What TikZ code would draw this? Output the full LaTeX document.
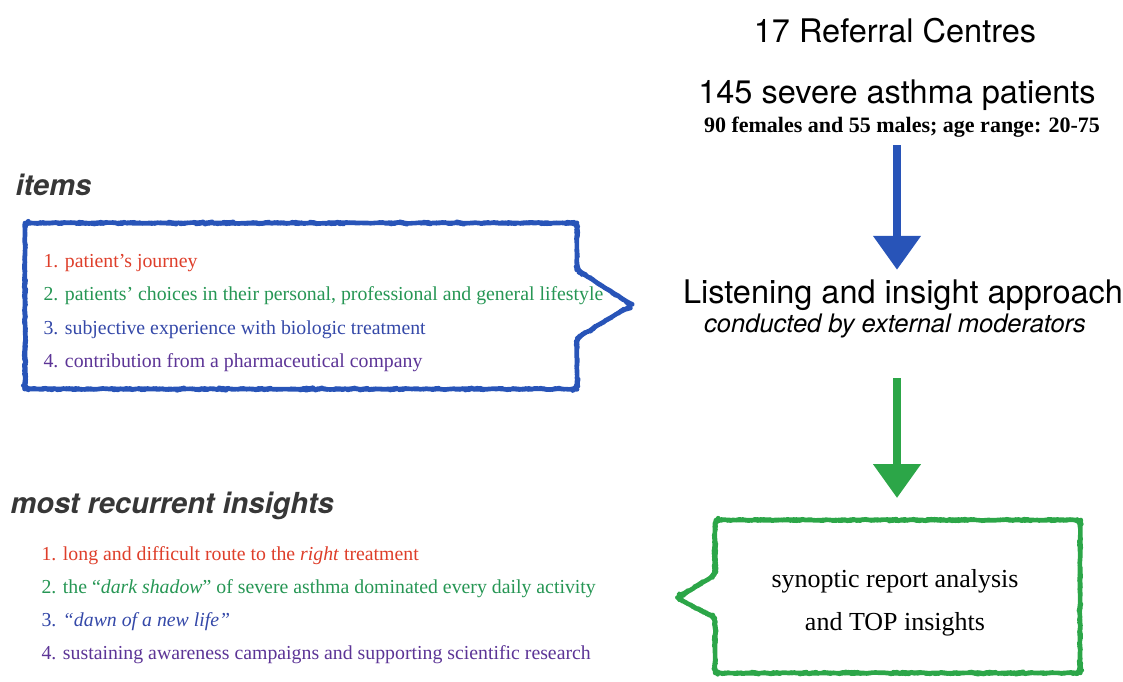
\documentclass[tikz,border=0pt]{standalone}
\usepackage{fontspec}
\setmainfont{Liberation Serif}
\setsansfont{TeX Gyre Heros}
\usetikzlibrary{arrows.meta,decorations.pathmorphing,positioning}

\definecolor{itemred}{RGB}{222,62,42}
\definecolor{itemgreen}{RGB}{38,150,84}
\definecolor{itemblue}{RGB}{52,72,168}
\definecolor{itempurple}{RGB}{92,52,150}
\definecolor{penblue}{RGB}{40,84,184}
\definecolor{pengreen}{RGB}{44,166,72}
\definecolor{headgray}{RGB}{55,55,55}

\tikzset{
  crayon/.style={line width=4.5pt, line join=round, rounded corners=5pt,
    decorate, decoration={random steps, segment length=3pt, amplitude=0.5pt}},
  bigarrow/.style={line width=8pt, -{Triangle[width=46pt,length=34pt]}},
  bigtitle/.style={font=\sffamily\fontsize{32.5}{38}\selectfont, anchor=base},
  heading/.style={font=\sffamily\bfseries\itshape\fontsize{29}{34}\selectfont,
    text=headgray, anchor=base west},
  listtext/.style={font=\fontsize{19.8}{23}\selectfont, anchor=base west},
}

\begin{document}
\begin{tikzpicture}[x=1pt, y=-1pt]
  \useasboundingbox (0,0) rectangle (1123,681);

  % right column
  \node [bigtitle] (centres) at (895,42) {17 Referral Centres};
  \node [bigtitle] (patients) at (897,103) {145 severe asthma patients};
  \node [font=\bfseries\fontsize{22}{26}\selectfont, anchor=base] (sub) at (902,132)
    {90 females and 55 males; age range: 20-75};
  \node [bigtitle] (listen) at (903,303) {Listening and insight approach};
  \node [font=\sffamily\itshape\fontsize{25.5}{30}\selectfont, anchor=base] (mod) at (895,332)
    {conducted by external moderators};

  \draw [bigarrow, penblue, shorten <=5pt, shorten >=6pt]
    (patients.south |- sub.south) -- (patients.south |- listen.north);

  % report box
  \coordinate (boxtop) at (897,520);
  \draw [crayon, pengreen] (715,520) -- (1080,520) -- (1080,673) -- (715,673)
    -- (715,618) -- (677,598) -- (715,575) -- cycle;
  \node [font=\fontsize{26}{30}\selectfont, anchor=base] (report1) at (895,587) {synoptic report analysis};
  \node [font=\fontsize{26}{30}\selectfont, anchor=base] (report2) at (895,630) {and TOP insights};

  \draw [bigarrow, pengreen, shorten <=37pt, shorten >=22pt] (patients.south |- mod.south) -- (boxtop);

  % items
  \node [heading] (items) at (12,195) {items};
  \draw [crayon, penblue] (25,223) -- (577,223) -- (577,270) -- (632,305) -- (577,338)
    -- (577,389) -- (25,389) -- cycle;
  \node [listtext, text=itemred] (item1) at (40,267) {1. patient's journey};
  \node [listtext, text=itemgreen] (item2) at (40,300)
    {2. patients' choices in their personal, professional and general lifestyle};
  \node [listtext, text=itemblue] (item3) at (40,334) {3. subjective experience with biologic treatment};
  \node [listtext, text=itempurple] (item4) at (40,367) {4. contribution from a pharmaceutical company};

  % insights
  \node [heading] (insights) at (7,513) {most recurrent insights};
  \node [listtext, text=itemred] (ins1) at (38,560) {1. long and difficult route to the \textit{right} treatment};
  \node [listtext, text=itemgreen] (ins2) at (38,593)
    {2. the ``\textit{dark shadow}'' of severe asthma dominated every daily activity};
  \node [listtext, text=itemblue] (ins3) at (38,626) {3. \textit{``dawn of a new life''}};
  \node [listtext, text=itempurple] (ins4) at (38,659)
    {4. sustaining awareness campaigns and supporting scientific research};
\end{tikzpicture}
\end{document}
